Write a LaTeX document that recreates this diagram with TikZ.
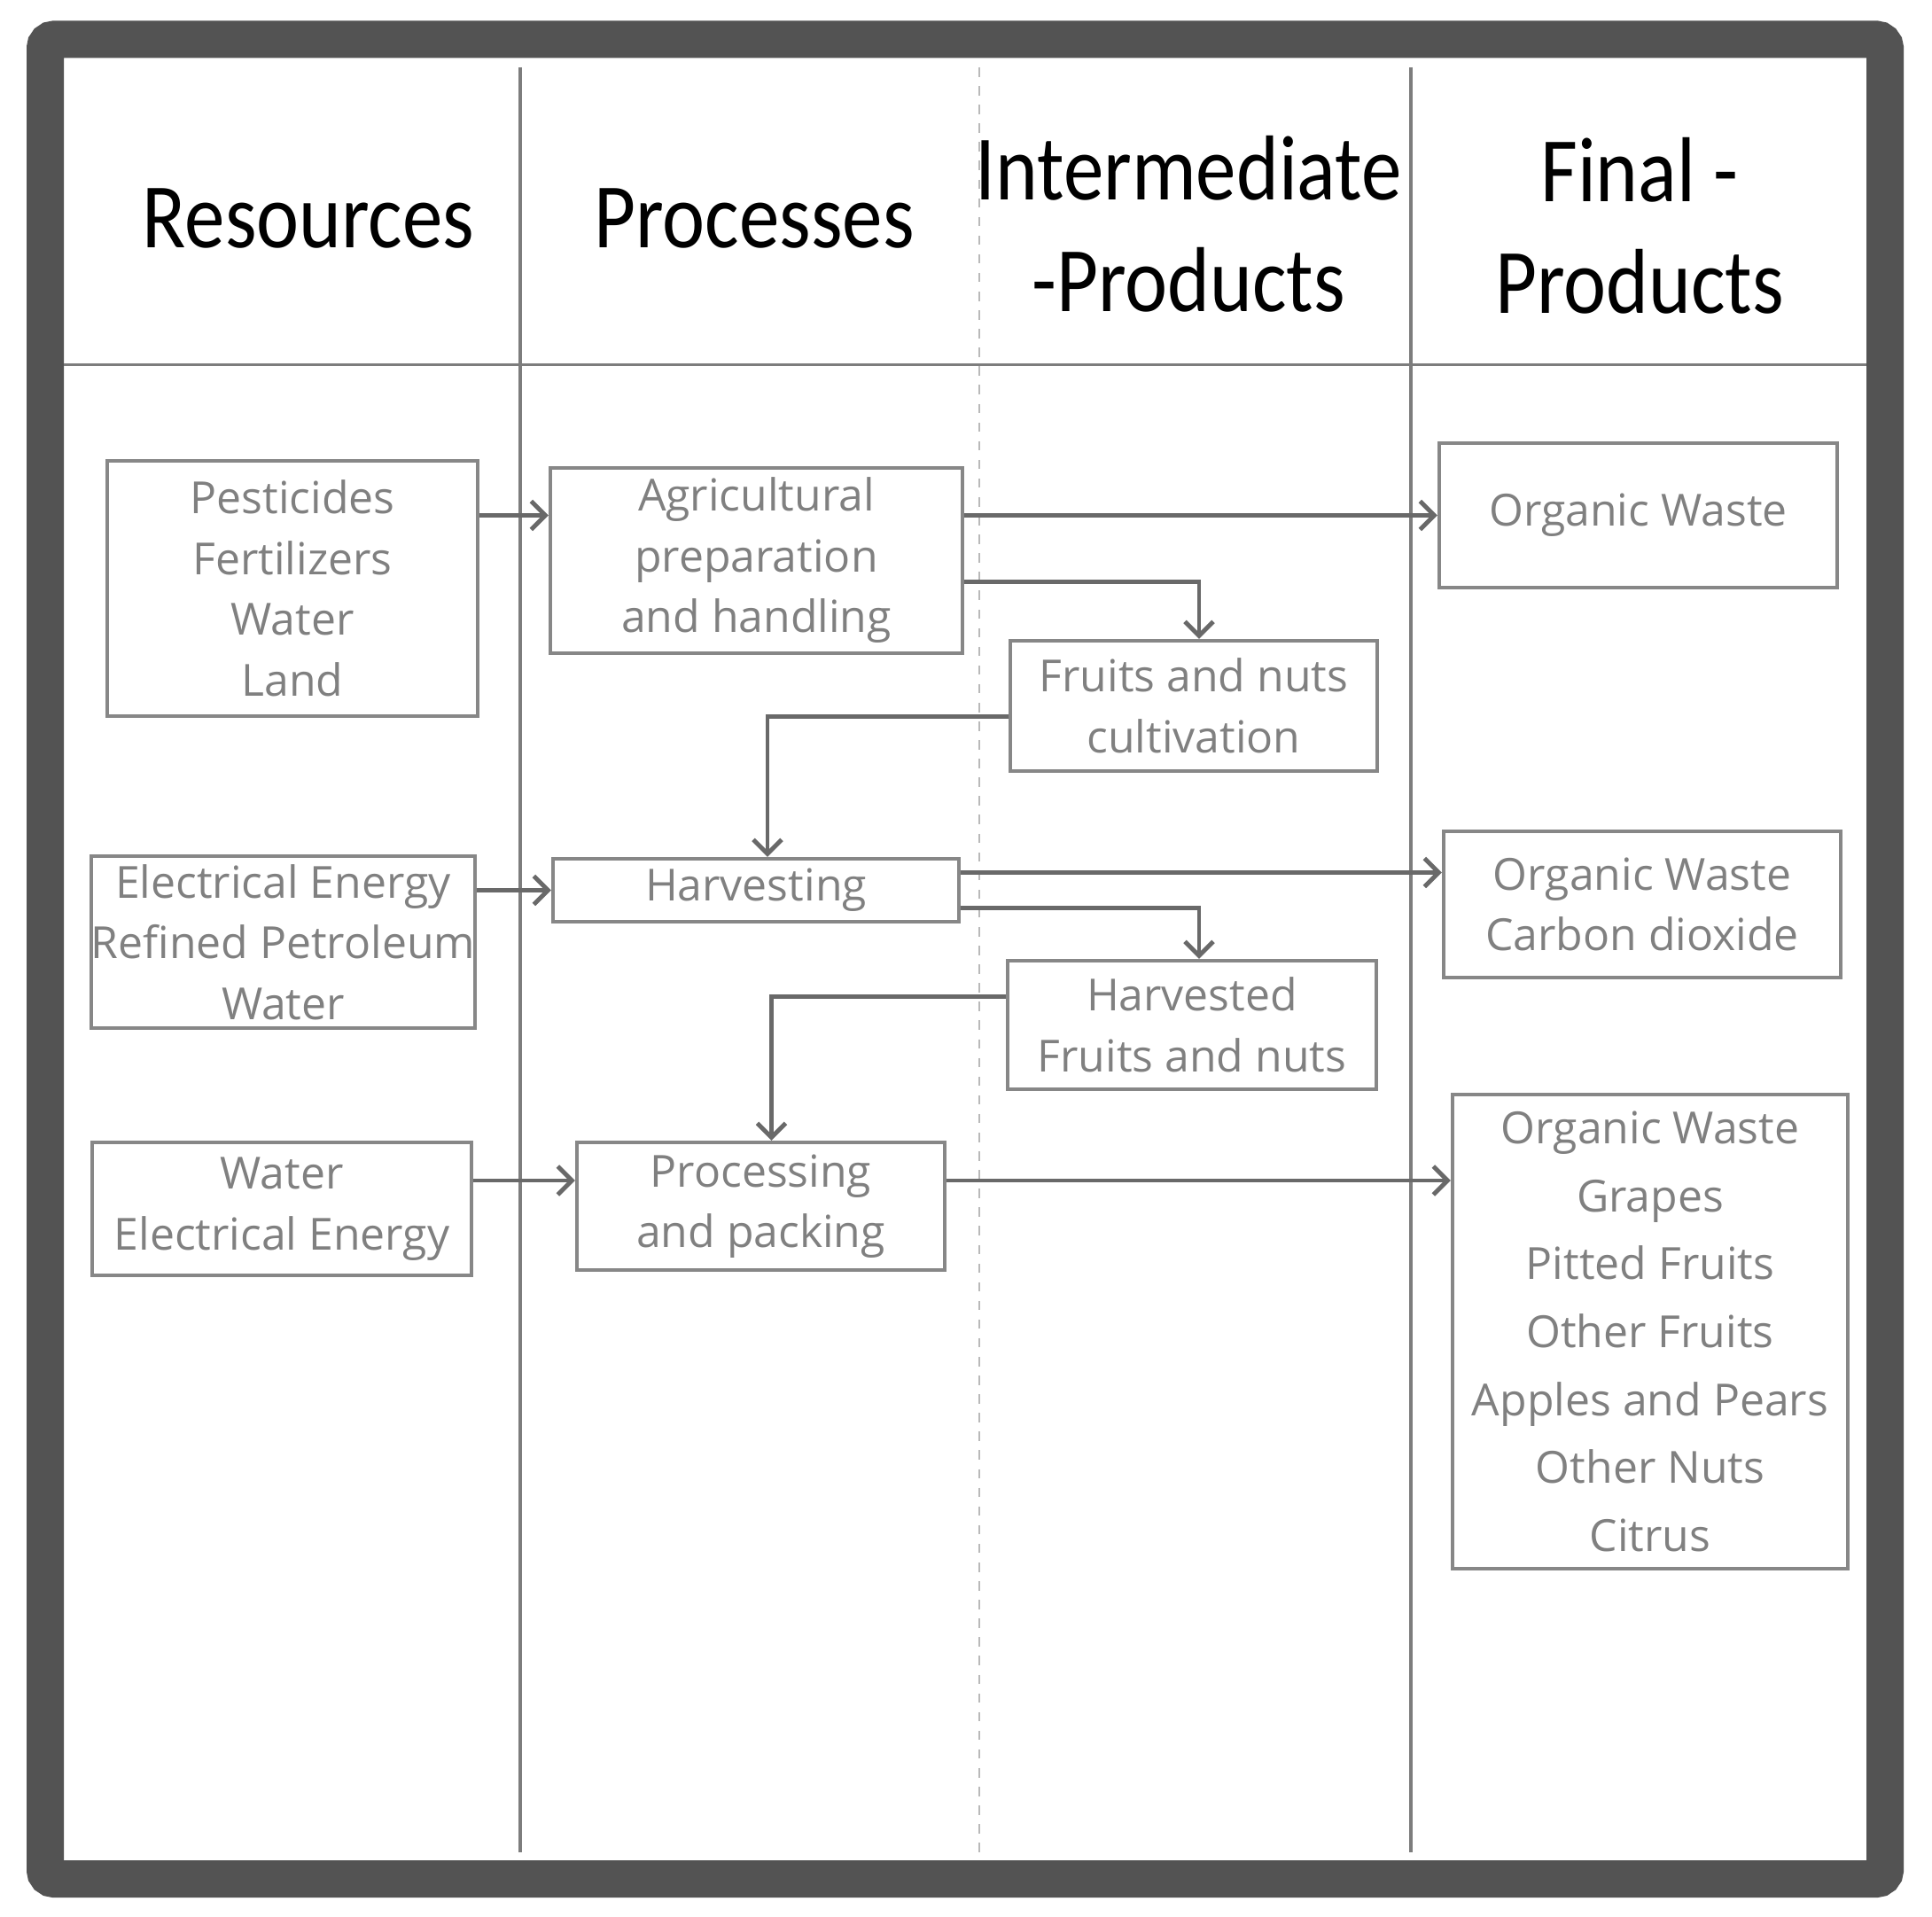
\documentclass[tikz,border=0pt]{standalone}
\usepackage{fontspec}
\usepackage{tikz}
\usetikzlibrary{arrows.meta,positioning}
\newfontfamily\headfont[FakeStretch=0.875]{Carlito}
\newfontfamily\boxfont{Open Sans}
\definecolor{framegrey}{RGB}{83,83,83}
\definecolor{rulegrey}{RGB}{125,125,125}
\definecolor{dashgrey}{RGB}{185,185,185}
\definecolor{boxline}{RGB}{135,135,135}
\definecolor{boxtext}{RGB}{128,128,128}
\definecolor{arrowgrey}{RGB}{105,105,105}

\begin{document}
\begin{tikzpicture}[
  head/.style={font=\headfont\fontsize{29.6}{36}\selectfont, align=center, text=black},
  flowbox/.style={draw=boxline, line width=1.2pt, font=\boxfont\fontsize{14.2}{19.5}\selectfont,
    text=boxtext, align=center, inner sep=0pt},
  tallbox/.style={flowbox, font=\boxfont\fontsize{14.2}{21.8}\selectfont},
  flow/.style={draw=arrowgrey, line width=1.4pt, -{Straight Barb[length=1.6mm,width=3.2mm]}},
  colrule/.style={draw=rulegrey, line width=0.9pt}
]
\useasboundingbox (0,0) rectangle (21.80,21.62);

% outer frame and lanes
\draw[framegrey, line width=0.42cm, rounded corners=0.1cm] (0.51,0.42) rectangle (21.27,21.175);
\draw[colrule] (0.72,17.505) -- (21.06,17.505);
\draw[colrule] (5.87,20.86) -- (5.87,0.72);
\draw[colrule] (15.92,20.86) -- (15.92,0.72);
\draw[draw=dashgrey, line width=0.8pt, dashed] (11.05,20.86) -- (11.05,0.72);

% headers
\node[head] (hres)  at (3.48,19.15)  {Resources};
\node[head] (hproc) at (8.51,19.15)  {Processes};
\node[head] (hint)  at (13.41,19.09) {Intermediate\\-Products};
\node[head] (hfin)  at (18.50,19.07) {Final -\\Products};

% resources
\node[flowbox, minimum width=4.18cm, minimum height=2.88cm] (res1) at (3.30,14.98)
  {Pesticides\\Fertilizers\\Water\\Land};
\node[flowbox, minimum width=4.31cm, minimum height=1.94cm] (res2) at (3.195,10.99)
  {Electrical Energy\\Refined Petroleum\\Water};
\node[flowbox, minimum width=4.28cm, minimum height=1.50cm] (res3) at (3.18,7.98)
  {Water\\Electrical Energy};

% processes
\node[flowbox, minimum width=4.65cm, minimum height=2.09cm] (agri) at (8.535,15.295)
  {Agricultural\\preparation\\and handling};
\node[flowbox, minimum width=4.58cm, minimum height=0.71cm] (harv) at (8.53,11.575)
  {Harvesting};
\node[flowbox, minimum width=4.15cm, minimum height=1.44cm] (proc) at (8.585,8.01)
  {Processing\\and packing};

% intermediate products
\node[flowbox, minimum width=4.14cm, minimum height=1.47cm] (cult) at (13.47,13.655)
  {Fruits and nuts\\cultivation};
\node[flowbox, minimum width=4.16cm, minimum height=1.45cm] (harvd) at (13.45,10.055)
  {Harvested\\Fruits and nuts};

% final products
\node[flowbox, minimum width=4.49cm, minimum height=1.63cm] (fin1) at (18.485,15.805)
  {Organic Waste};
\node[flowbox, minimum width=4.48cm, minimum height=1.65cm] (fin2) at (18.53,11.415)
  {Organic Waste\\Carbon dioxide};
\node[tallbox, minimum width=4.46cm, minimum height=5.35cm] (fin3) at (18.62,6.595)
  {Organic Waste\\Grapes\\Pitted Fruits\\Other Fruits\\Apples and Pears\\Other Nuts\\Citrus};

% flows
\draw[flow] (res1.east |- fin1.west) -- (agri.west |- fin1.west);
\draw[flow] (agri.east |- fin1.west) -- (fin1.west);
\draw[flow] ([yshift=-0.24cm]agri.east) -| ([xshift=0.06cm]cult.north);
\draw[flow] ([yshift=-0.12cm]cult.west) -| ([xshift=0.13cm]harv.north);
\draw[flow] (res2.east |- harv.west) -- (harv.west);
\draw[flow] ([yshift=0.2cm]harv.east) -- ([yshift=0.2cm]harv.east -| fin2.west);
\draw[flow] ([yshift=-0.2cm]harv.east) -| ([xshift=0.08cm]harvd.north);
\draw[flow] ([yshift=0.32cm]harvd.west) -| ([xshift=0.12cm]proc.north);
\draw[flow] ([yshift=0.32cm]res3.east) -- ([yshift=0.32cm]res3.east -| proc.west);
\draw[flow] ([yshift=0.29cm]proc.east) -- ([yshift=0.29cm]proc.east -| fin3.west);
\end{tikzpicture}
\end{document}
